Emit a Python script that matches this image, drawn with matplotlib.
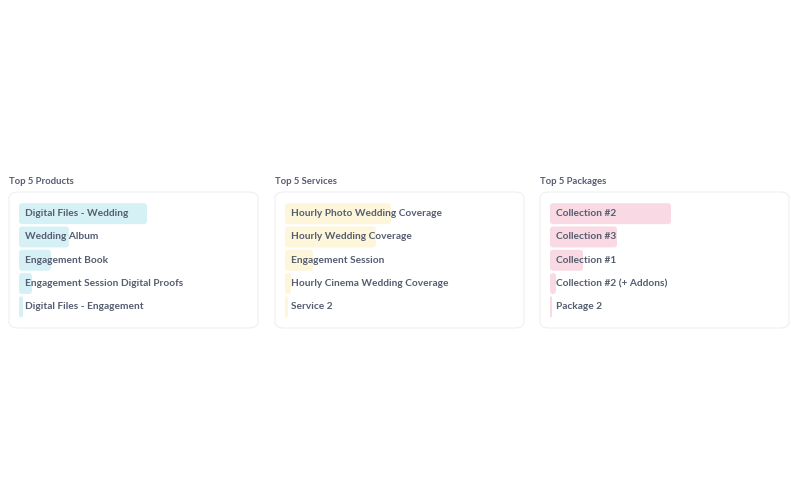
import matplotlib
matplotlib.use("Agg")
import matplotlib.pyplot as plt
from matplotlib.patches import FancyBboxPatch
import matplotlib.transforms as mtransforms

plt.rcParams['font.family'] = ['Lato', 'DejaVu Sans']

titles = ["Top 5 Products", "Top 5 Services", "Top 5 Packages"]

product_names = ["Digital Files - Wedding", "Wedding Album", "Engagement Book",
                 "Engagement Session Digital Proofs", "Digital Files - Engagement"]
product_values = [128, 50, 32, 13, 4]

service_names = ["Hourly Photo Wedding Coverage", "Hourly Wedding Coverage",
                 "Engagement Session", "Hourly Cinema Wedding Coverage", "Service 2"]
service_values = [106, 91, 28, 6, 3]

package_names = ["Collection #2", "Collection #3", "Collection #1",
                 "Collection #2 (+ Addons)", "Package 2"]
package_values = [121, 67, 33, 6, 2]

colors = ["#d6f1f6", "#fdf6da", "#f9d9e3"]
scale_max = 229

W, H = 800, 500
fig = plt.figure(figsize=(8, 5), dpi=100)
fig.patch.set_facecolor("white")

panel_lefts = [9, 275, 540]
panel_w = 249
box_top, box_bot = 192, 328

groups = [(product_names, product_values), (service_names, service_values),
          (package_names, package_values)]

text_color = "#555d70"

for i, (names, vals) in enumerate(groups):
    px = panel_lefts[i]
    # title
    fig.text(px / W, 1 - 181 / H, titles[i], fontsize=6.8, color=text_color,
             va="center", ha="left", fontweight="bold")
    # card box
    box = FancyBboxPatch((px / W, 1 - box_bot / H), panel_w / W, (box_bot - box_top) / H,
                         boxstyle="round,pad=0,rounding_size=0.012",
                         transform=fig.transFigure, facecolor="none",
                         edgecolor="#f0f1f4", linewidth=0.9, zorder=-1)
    fig.patches.append(box)
    # bar axes
    ax_left = px + 10
    ax_w = 229
    ax_top = 202
    ax_bot = 318.5
    ax = fig.add_axes([ax_left / W, 1 - ax_bot / H, ax_w / W, (ax_bot - ax_top) / H])
    ax.set_facecolor("none")
    ys = list(range(len(names)))
    ax.set_xlim(0, scale_max)
    ax.set_ylim(len(names) - 0.5, -0.5)
    bars = ax.barh(ys, vals, height=0.9, color=colors[i], edgecolor="none")
    # replace with rounded versions of the same geometry
    px_per_x = ax_w / scale_max
    px_per_y = (ax_bot - ax_top) / len(names)
    for b in bars:
        x0, y0, w, h = b.get_x(), b.get_y(), b.get_width(), b.get_height()
        r = min(3.0, w * px_per_x / 2) / px_per_x
        rb = FancyBboxPatch((x0, y0), w, h,
                            boxstyle=f"round,pad=0,rounding_size={r}",
                            mutation_aspect=px_per_x / px_per_y,
                            facecolor=colors[i], edgecolor="none")
        ax.add_patch(rb)
        b.set_visible(False)
    ax.axis("off")
    offset = mtransforms.offset_copy(ax.transData, fig=fig, x=6, y=0, units="dots")
    for y, name in zip(ys, names):
        ax.text(0, y, name, transform=offset, fontsize=7.3, color=text_color,
                va="center", ha="left", fontweight="bold", zorder=5)

fig.savefig("out.png", dpi=100, facecolor="white")
